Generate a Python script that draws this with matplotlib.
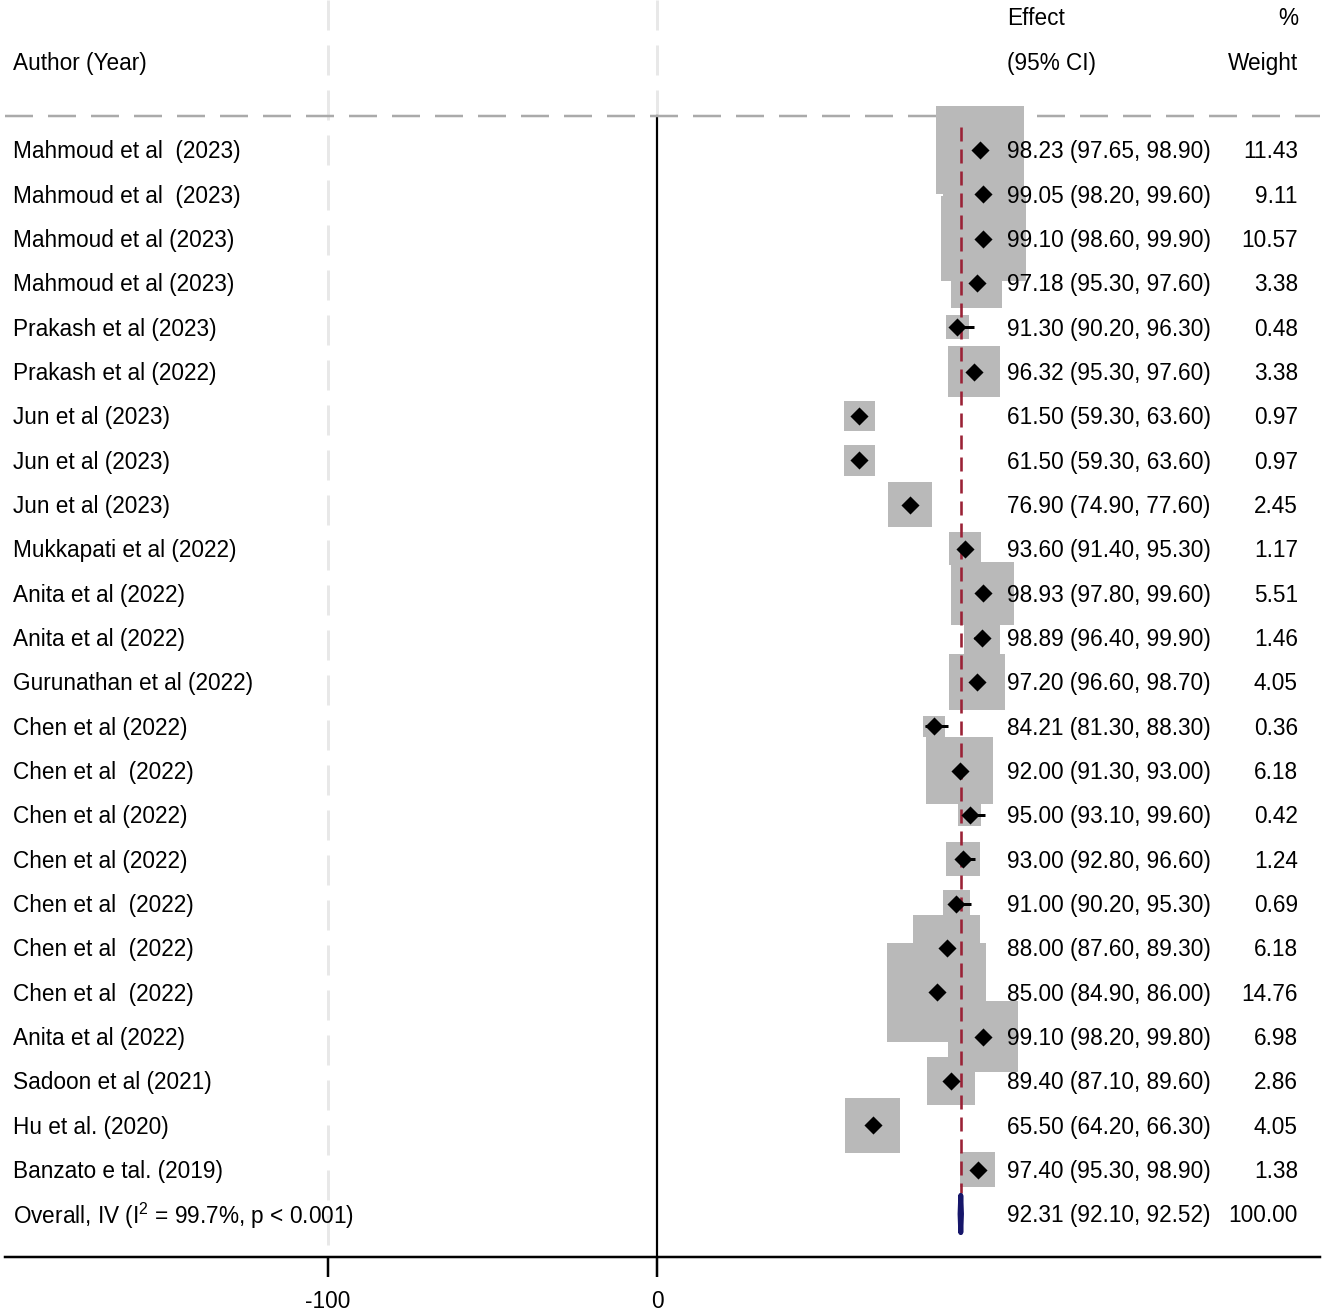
import matplotlib
matplotlib.use("Agg")
import matplotlib.pyplot as plt
from matplotlib.patches import Polygon

plt.rcParams['font.family'] = ['Liberation Sans', 'DejaVu Sans']
plt.rcParams['mathtext.fontset'] = 'custom'
plt.rcParams['mathtext.rm'] = 'Liberation Sans'
plt.rcParams['mathtext.it'] = 'Liberation Sans:italic'
plt.rcParams['axes.unicode_minus'] = False
plt.rcParams['lines.scale_dashes'] = False

# 研究数据
authors = ["Mahmoud et al  (2023)", "Mahmoud et al  (2023)", "Mahmoud et al (2023)",
           "Mahmoud et al (2023)", "Prakash et al (2023)", "Prakash et al (2022)",
           "Jun et al (2023)", "Jun et al (2023)", "Jun et al (2023)",
           "Mukkapati et al (2022)", "Anita et al (2022)", "Anita et al (2022)",
           "Gurunathan et al (2022)", "Chen et al (2022)", "Chen et al  (2022)",
           "Chen et al (2022)", "Chen et al (2022)", "Chen et al  (2022)",
           "Chen et al  (2022)", "Chen et al  (2022)", "Anita et al (2022)",
           "Sadoon et al (2021)", "Hu et al. (2020)", "Banzato e tal. (2019)"]
effect = [98.23, 99.05, 99.10, 97.18, 91.30, 96.32, 61.50, 61.50, 76.90, 93.60,
          98.93, 98.89, 97.20, 84.21, 92.00, 95.00, 93.00, 91.00, 88.00, 85.00,
          99.10, 89.40, 65.50, 97.40]
lower = [97.65, 98.20, 98.60, 95.30, 90.20, 95.30, 59.30, 59.30, 74.90, 91.40,
         97.80, 96.40, 96.60, 81.30, 91.30, 93.10, 92.80, 90.20, 87.60, 84.90,
         98.20, 87.10, 64.20, 95.30]
upper = [98.90, 99.60, 99.90, 97.60, 96.30, 97.60, 63.60, 63.60, 77.60, 95.30,
         99.60, 99.90, 98.70, 88.30, 93.00, 99.60, 96.60, 95.30, 89.30, 86.00,
         99.80, 89.60, 66.30, 98.90]
weight = [11.43, 9.11, 10.57, 3.38, 0.48, 3.38, 0.97, 0.97, 2.45, 1.17, 5.51, 1.46,
          4.05, 0.36, 6.18, 0.42, 1.24, 0.69, 6.18, 14.76, 6.98, 2.86, 4.05, 1.38]

overall_label = "Overall, IV (I$^{\\mathrm{2}}$ = 99.7%, p < 0.001)"
overall_est = 92.31
overall_lo = 92.10
overall_hi = 92.52

n = len(authors)
rows = list(range(n))
fs = 16.3
px = 0.72  # 像素 -> 磅
dy = 0.045  # 文字垂直微调

fig = plt.figure(figsize=(13.25, 13.14), dpi=100)
ax = fig.add_axes([5 / 1325, 57 / 1314, 1315 / 1325, 1257 / 1314])
ax.set_xlim(-198.2, 201.5)
ax.set_ylim(24.97, -3.38)

# 背景参考线
ax.plot([-100, -100], [-3.38, 24.97], color='#e8e8e8', lw=3 * px,
        dashes=(30 * px, 15 * px), zorder=0)
ax.plot([0, 0], [-3.38, -0.77], color='#e8e8e8', lw=3 * px,
        dashes=(30 * px, 15 * px), zorder=0)
ax.plot([0, 0], [-0.77, 24.97], color='black', lw=2.2 * px, zorder=1)
ax.plot([-198.2, 201.5], [-0.77, -0.77], color='#aaaaaa', lw=2.5 * px,
        dashes=(28 * px, 15 * px), zorder=1, clip_on=False)

# 权重方块
sizes = [((24 * w ** 0.5 + 7) * px) ** 2 for w in weight]
ax.scatter(effect, rows, s=sizes, marker='s', color='#b9b9b9',
           linewidths=0, zorder=2)

# 合并效应线
ax.plot([overall_est, overall_est], [-0.52, 23.53], color='#9a2236', lw=2.6 * px,
        dashes=(14 * px, 8 * px), zorder=3)

# 置信区间
ax.hlines(rows, lower, upper, color='black', lw=3 * px, zorder=4)
ax.scatter(effect, rows, s=85, marker='D', color='black', linewidths=0, zorder=5)

# 合并菱形
yo = n
diamond = Polygon([[overall_lo, yo], [overall_est, yo - 0.42],
                   [overall_hi, yo], [overall_est, yo + 0.42]],
                  closed=True, facecolor='#16166a', edgecolor='#16166a',
                  lw=5 * px, joinstyle='round', zorder=5)
ax.add_patch(diamond)

# 文字
x_auth = -195.9
x_eff = 106.4
x_w = 194.8
ax.text(x_auth, -2 + dy, "Author (Year)", fontsize=fs, va='center', ha='left')
ax.text(x_eff, -3 + dy, "Effect", fontsize=fs, va='center', ha='left')
ax.text(x_eff, -2 + dy, "(95% CI)", fontsize=fs, va='center', ha='left')
ax.text(x_w, -3 + dy, "%", fontsize=fs, va='center', ha='right')
ax.text(x_w, -2 + dy, "Weight", fontsize=fs, va='center', ha='right')

for i in rows:
    ax.text(x_auth, i + dy, authors[i], fontsize=fs, va='center', ha='left')
    ax.text(x_eff, i + dy, "%.2f (%.2f, %.2f)" % (effect[i], lower[i], upper[i]),
            fontsize=fs, va='center', ha='left', zorder=6)
    ax.text(x_w, i + dy, "%.2f" % weight[i], fontsize=fs, va='center', ha='right')

ax.text(x_auth, yo + dy, overall_label, fontsize=fs, va='center', ha='left')
ax.text(x_eff, yo + dy, "%.2f (%.2f, %.2f)" % (overall_est, overall_lo, overall_hi),
        fontsize=fs, va='center', ha='left')
ax.text(x_w, yo + dy, "100.00", fontsize=fs, va='center', ha='right')

# 坐标轴
for s in ['top', 'left', 'right']:
    ax.spines[s].set_visible(False)
ax.spines['bottom'].set_linewidth(2.5 * px)
ax.set_yticks([])
ax.set_xticks([-100, 0])
ax.set_xticklabels(['-100', '0'])
ax.tick_params(axis='x', length=20 * px, width=2.5 * px, labelsize=fs, pad=9)

fig.savefig("out.png", dpi=100)
